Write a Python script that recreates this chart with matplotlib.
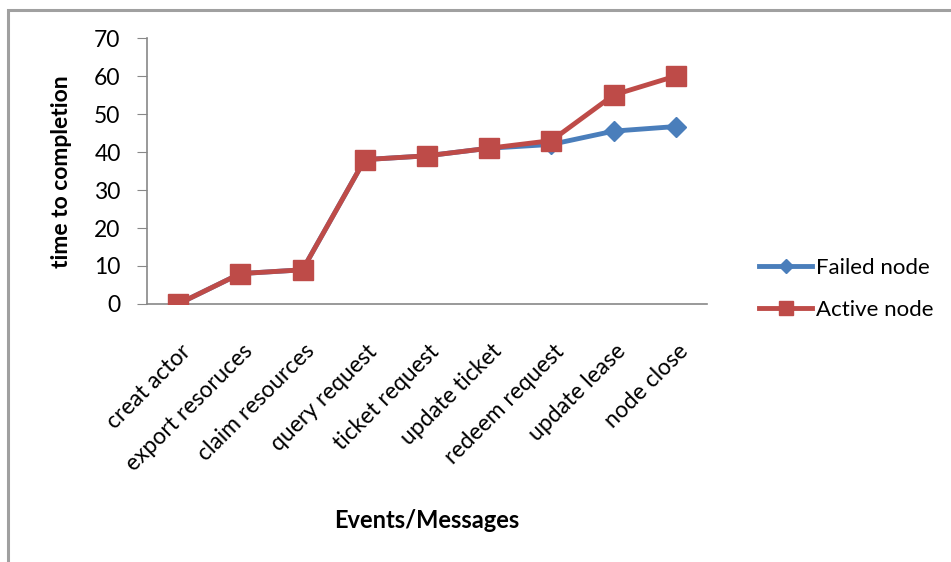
import numpy as np
import matplotlib.pyplot as plt
import matplotlib.transforms as mtransforms
from matplotlib.patches import Rectangle

''' --------- Data --------- '''
events = ['creat actor', 'export resoruces', 'claim resources', 'query request',
          'ticket request', 'update ticket', 'redeem request', 'update lease',
          'node close']
failed = [0, 8, 9, 38, 39, 41, 42, 45.5, 46.7]
active = [0, 8, 9, 38, 39, 41, 43, 55, 60]

plt.rcParams['font.family'] = ['Lato', 'DejaVu Sans']

fig = plt.figure(figsize=(9.51, 5.62), dpi=100)
ax = fig.add_axes([147/951, 1 - 304/562, (707 - 147)/951, (304 - 38)/562])

# outer chart border (only left and top visible in the reference)
fig.patches.append(Rectangle((8/951, -0.05), 1.2, 1 - 10/562 + 0.05,
                             transform=fig.transFigure, fill=False,
                             edgecolor='#a0a0a0', linewidth=2.2))

x = np.arange(len(events))
ax.plot(x, failed, color='#4a7ebb', lw=3.5, marker='D', ms=10.5,
        label='Failed node', zorder=3)
ax.plot(x, active, color='#be4b48', lw=3.5, marker='s', ms=14.5,
        label='Active node', zorder=4)

ax.set_xlim(-0.5, len(events) - 0.5)
ax.set_ylim(0, 70)
ax.set_yticks(range(0, 71, 10))
ax.tick_params(axis='y', length=7, color='#888888', labelsize=16.5, pad=12)
ax.tick_params(axis='x', length=0, labelsize=16.5, pad=0)
ax.set_xticks(x)
ax.set_xticklabels(events, rotation=45, ha='right', va='center',
                   rotation_mode='anchor')
offset = mtransforms.ScaledTranslation(9/100, -44/100, fig.dpi_scale_trans)
for lab in ax.get_xticklabels():
    lab.set_transform(lab.get_transform() + offset)

for side in ['top', 'right']:
    ax.spines[side].set_visible(False)
for side in ['left', 'bottom']:
    ax.spines[side].set_color('#888888')
    ax.spines[side].set_linewidth(1.2)

fig.text(62/951, 1 - 172/562, 'time to completion', fontsize=16.5,
         fontweight='bold', rotation=90, ha='center', va='center')
fig.text(427/951, 1 - 520/562, 'Events/Messages', fontsize=17, fontweight='bold',
         ha='center', va='center')

leg = ax.legend(loc='center left', bbox_to_anchor=(748/951, 1 - 289/562),
                bbox_transform=fig.transFigure, frameon=False, fontsize=16,
                handlelength=2.4, handletextpad=0.15, labelspacing=1.0,
                borderpad=0, markerscale=0.7)

fig.savefig('out.png', dpi=100)
